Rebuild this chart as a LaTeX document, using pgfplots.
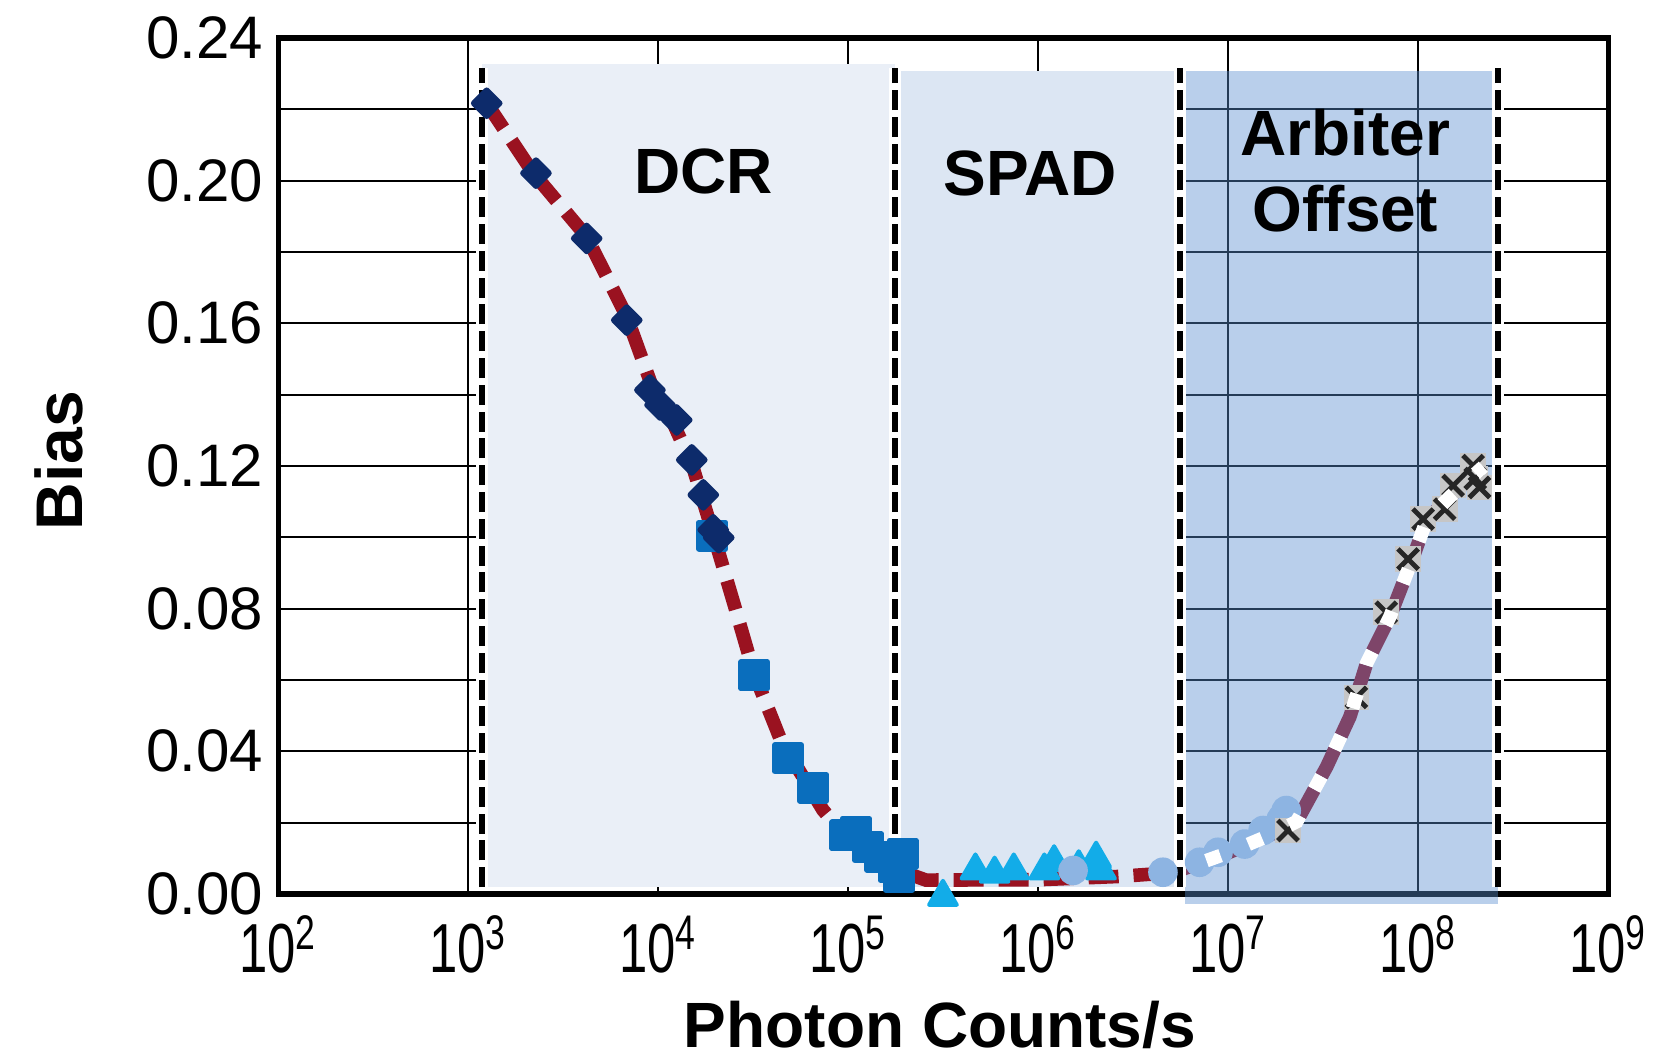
\documentclass[border=0pt]{standalone}
\usepackage{fontspec}
\setmainfont{Liberation Sans}
\usepackage{graphicx}
\usepackage{pgfplots}
\usepackage{pgfplotstable}
\pgfplotsset{compat=1.18}
\definecolor{dcrfill}{HTML}{EAEFF7}
\definecolor{spadfill}{HTML}{DCE6F3}
\definecolor{arbfill}{HTML}{588DCF}
\definecolor{navy}{HTML}{0D2B6B}
\definecolor{sqblue}{HTML}{0A6EBD}
\definecolor{tricyan}{HTML}{12ACE8}
\definecolor{circblue}{HTML}{8DB4E2}
\definecolor{fitred}{HTML}{9A1220}
\newcommand\xtl[1]{\scalebox{0.82}[1.12]{10\textsuperscript{#1}}}
\pgfplotstableread{
x y
1250 0.2217
2198 0.2021
4198 0.1843
6823 0.1619
9419 0.1413
11990 0.1320
15140 0.1200
19950 0.0990
25120 0.0810
31920 0.0619
44060 0.0432
73450 0.0236
100000 0.0150
161400 0.0077
256400 0.0039
1000000 0.0040
2612000 0.0049
4550000 0.0058
5572000 0.0067
9817000 0.0114
15920000 0.0161
22910000 0.0203
32960000 0.0357
43650000 0.0497
53460000 0.0647
70960000 0.0778
94190000 0.0946
110700000 0.1049
146900000 0.1114
219800000 0.1198
}\fittable
\begin{document}
\begin{tikzpicture}
\begin{axis}[
  set layers,
  scale only axis, width=332.5pt, height=214pt,
  xmode=log, xmin=1e2, xmax=1e9, ymin=0, ymax=0.24,
  clip=false,
  xtick={1e2,1e3,1e4,1e5,1e6,1e7,1e8,1e9},
  xticklabels={\xtl{2},\xtl{3},\xtl{4},\xtl{5},\xtl{6},\xtl{7},\xtl{8},\xtl{9}},
  ytick={0,0.04,0.08,0.12,0.16,0.20,0.24},
  yticklabels={0.00,0.04,0.08,0.12,0.16,0.20,0.24},
  minor ytick={0.02,0.06,0.10,0.14,0.18,0.22},
  xminorticks=false,
  xmajorgrids, ymajorgrids, yminorgrids,
  major grid style={black, line width=0.45pt},
  minor grid style={black, line width=0.45pt},
  major tick length=0pt, minor tick length=0pt,
  axis line style={black, line width=1.3pt},
  xticklabel style={font=\fontsize{15.5}{18}\selectfont, anchor=base, yshift=-19.75pt},
  yticklabel style={font=\fontsize{15}{18}\selectfont, anchor=east, inner xsep=0pt, xshift=-3.6pt},
  xlabel={Photon Counts/s}, ylabel={Bias},
  xlabel style={font=\fontsize{16}{19}\selectfont\bfseries, at={(axis description cs:0.4974,-0.179)}, anchor=base},
  ylabel style={font=\fontsize{16.5}{19}\selectfont\bfseries, at={(axis description cs:-0.1653,0.506)}, anchor=center},
]
% region fills
\fill[dcrfill, on layer=axis background] (axis cs:1180,0.0019) rectangle (axis cs:175300,0.2326);
\fill[spadfill, on layer=axis background] (axis cs:175300,0.0019) rectangle (axis cs:5572000,0.2308);

% triangles
\addplot[tricyan, only marks, mark=triangle*, mark size=4pt, mark options={line width=1pt, line join=round}] coordinates {
(160700,0.0089) (177800,0.0060) (314800,-0.0008) (466700,0.0066) (588800,0.0057)
(743000,0.0066) (1076000,0.0066) (1211000,0.0089) (1633000,0.0075) (2014000,0.0099) (2138000,0.0066)
};
% circles
\addplot[circblue, only marks, mark=*, mark size=3.5pt] coordinates {
(1524000,0.0066) (4529000,0.0061) (7063000,0.0089) (8831000,0.0117) (12190000,0.0140)
(15240000,0.0178) (19000000,0.0210) (20180000,0.0234)
};
% squares
\addplot[sqblue, only marks, mark=square*, mark size=3.3pt, mark options={line width=1.4pt, line join=round}] coordinates {
(19230,0.1005) (31990,0.0613) (48190,0.0381) (65160,0.0298) (96600,0.0164) (109600,0.0175)
(127600,0.0131) (147600,0.0104) (193600,0.0113) (184900,0.0048) (173800,0.0075)
};
% diamonds
\addplot[navy, only marks, mark=square*, mark size=2.3pt, mark options={rotate=45, line width=1.4pt, line join=round}] coordinates {
(1250,0.2217) (2270,0.2021) (4198,0.1838) (6823,0.1609) (9036,0.1413) (10210,0.1371)
(12500,0.1329) (15000,0.1217) (17260,0.1119) (19450,0.1021) (20800,0.0999)
};
% crosses
\addplot[gray!45, only marks, mark=square*, mark size=3pt] coordinates {
(20610000,0.0178) (47210000,0.0551) (67760000,0.0790) (88310000,0.0939) (105900000,0.1051)
(137700000,0.1079) (152400000,0.1145) (194100000,0.1201) (209900000,0.1140) (199500000,0.1165)
};
\addplot[black!85, only marks, mark=x, mark size=3.6pt, mark options={line width=1.2pt}] coordinates {
(20610000,0.0178) (47210000,0.0551) (67760000,0.0790) (88310000,0.0939) (105900000,0.1051)
(137700000,0.1079) (152400000,0.1145) (194100000,0.1201) (209900000,0.1140) (199500000,0.1165)
};
% fit line (red dashes)
\addplot[fitred, line width=3.4pt, dash pattern=on 7.5pt off 3.75pt] table[x=x,y=y] {\fittable};
% arbiter overlay
\fill[arbfill, opacity=0.42, on layer=axis foreground] (axis cs:5902000,-0.0027) rectangle (axis cs:264200000,0.2308);
% white gaps of fit line above the overlay, only inside the arbiter region
\pgfplotsextra{%
\begin{pgfonlayer}{axis foreground}
\begin{scope}
\clip (axis cs:5902000,-0.01) rectangle (axis cs:264200000,0.24);
\draw[white, line width=3.4pt, dash pattern=on 3.75pt off 7.5pt, dash phase=3.75pt]
 (axis cs:1250,0.2217) -- (axis cs:2198,0.2021) -- (axis cs:4198,0.1843) -- (axis cs:6823,0.1619)
 -- (axis cs:9419,0.1413) -- (axis cs:11990,0.1320) -- (axis cs:15140,0.1200) -- (axis cs:19950,0.0990)
 -- (axis cs:25120,0.0810) -- (axis cs:31920,0.0619) -- (axis cs:44060,0.0432) -- (axis cs:73450,0.0236)
 -- (axis cs:100000,0.0150) -- (axis cs:161400,0.0077) -- (axis cs:256400,0.0039) -- (axis cs:1000000,0.0040)
 -- (axis cs:2612000,0.0049) -- (axis cs:4550000,0.0058) -- (axis cs:5572000,0.0067) -- (axis cs:9817000,0.0114)
 -- (axis cs:15920000,0.0161) -- (axis cs:22910000,0.0203) -- (axis cs:32960000,0.0357) -- (axis cs:43650000,0.0497)
 -- (axis cs:53460000,0.0647) -- (axis cs:70960000,0.0778) -- (axis cs:94190000,0.0946) -- (axis cs:110700000,0.1049)
 -- (axis cs:146900000,0.1114) -- (axis cs:219800000,0.1198);
\end{scope}
\end{pgfonlayer}}
% dashed boundaries
\draw[white, line width=3pt, on layer=axis foreground] (axis cs:1180,0.0019) -- (axis cs:1180,0.2316);
\draw[black, line width=1.5pt, dash pattern=on 5pt off 1.7pt, on layer=axis foreground] (axis cs:1180,0.0019) -- (axis cs:1180,0.2316);
\draw[white, line width=3pt, on layer=axis foreground] (axis cs:175300,0.0019) -- (axis cs:175300,0.2316);
\draw[black, line width=1.5pt, dash pattern=on 5pt off 1.7pt, on layer=axis foreground] (axis cs:175300,0.0019) -- (axis cs:175300,0.2316);
\draw[white, line width=3pt, on layer=axis foreground] (axis cs:5572000,0.0019) -- (axis cs:5572000,0.2316);
\draw[black, line width=1.5pt, dash pattern=on 5pt off 1.7pt, on layer=axis foreground] (axis cs:5572000,0.0019) -- (axis cs:5572000,0.2316);
\draw[white, line width=3pt, on layer=axis foreground] (axis cs:264200000,0.0019) -- (axis cs:264200000,0.2316);
\draw[black, line width=1.5pt, dash pattern=on 5pt off 1.7pt, on layer=axis foreground] (axis cs:264200000,0.0019) -- (axis cs:264200000,0.2316);
% region labels
\node[on layer=axis foreground, font=\fontsize{16}{19}\selectfont\bfseries, anchor=center] at (axis cs:17320,0.2027) {DCR};
\node[on layer=axis foreground, font=\fontsize{16}{19}\selectfont\bfseries, anchor=center] at (axis cs:907800,0.2019) {SPAD};
\node[on layer=axis foreground, font=\fontsize{16}{19}\selectfont\bfseries, anchor=center, align=center] at (axis cs:41300000,0.2028) {Arbiter\\Offset};
\end{axis}
\path (current axis.south west) ++(-69.575pt,-40.75pt) coordinate (bl);
\path (bl) ++(417pt,264.25pt) coordinate (tr);
\pgfresetboundingbox
\useasboundingbox (bl) rectangle (tr);
\end{tikzpicture}
\end{document}
